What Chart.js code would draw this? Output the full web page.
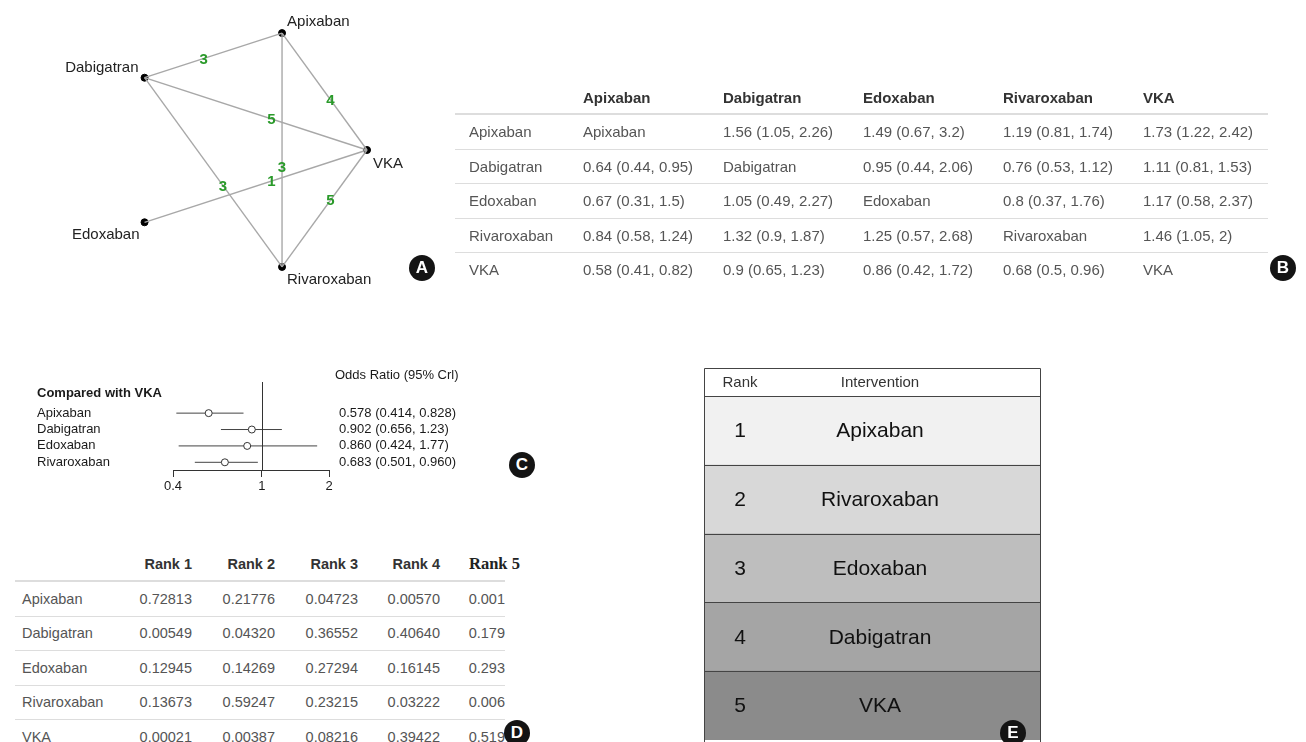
<!DOCTYPE html>
<html>
<head>
<meta charset="utf-8">
<script src="https://cdn.jsdelivr.net/npm/chart.js@4"></script>
<style>
  body { margin: 0; width: 1306px; height: 742px; background: #fff; position: relative; overflow: hidden;
         font-family: "Liberation Sans", Arial, sans-serif; }
  canvas { position: absolute; }
  .tag { position: absolute; width: 26px; height: 26px; border-radius: 50%; background: #141414; color: #fff;
         font: bold 17px "Liberation Sans", Arial; text-align: center; line-height: 26px; }
  table { position: absolute; border-collapse: collapse; table-layout: fixed; color: #555; }
  th, td { padding: 0; white-space: nowrap; overflow: visible; }
  th { color: #333; font-weight: bold; text-align: left; }
  #league { left: 455px; top: 81px; width: 813px; font-size: 15px; }
  #league th { height: 32px; border-bottom: 2px solid #ddd; }
  #league td { height: 33.5px; border-bottom: 1px solid #ddd; }
  #league tr:last-child td { border-bottom: none; }
  #league td, #league th { padding-left: 8px; }
  #league td:first-child { padding-left: 14px; }
  #ranks { left: 15px; top: 548px; width: 490px; font-size: 14.5px; }
  #ranks th { height: 32px; border-bottom: 2px solid #ddd; text-align: right; padding-right: 5px; }
  #ranks td { height: 33.5px; border-bottom: 1px solid #ddd; text-align: right; padding-right: 5px; }
  #ranks tr:last-child td { border-bottom: none; }
  #ranks td:first-child { text-align: left; padding-left: 7px; }
  #ranks td:last-child { padding-right: 0; }
  #ranks th.r5 { text-align: left; padding: 0 0 0 24px; font-family: "Liberation Serif", "Times New Roman", serif;
                 font-size: 16.5px; color: #222; }
</style>
</head>
<body>
<canvas id="network" width="420" height="300" style="left:40px;top:0px;"></canvas>
<table id="league"></table>
<canvas id="forest" width="440" height="138" style="left:30px;top:362px;"></canvas>
<table id="ranks"></table>
<canvas id="rankChart" width="337" height="374" style="left:704px;top:368px;"></canvas>

<div class="tag" style="left:409px;top:255px;">A</div>
<div class="tag" style="left:1270px;top:255px;">B</div>
<div class="tag" style="left:509px;top:452px;">C</div>
<div class="tag" style="left:504px;top:720px;">D</div>
<div class="tag" style="left:1000px;top:720px;">E</div>

<script>
const drugs = ['Apixaban', 'Dabigatran', 'Edoxaban', 'Rivaroxaban', 'VKA'];

// network layout (circle) and direct comparisons
const nodeX = [0.309, -0.809, -0.809, 0.309, 1];
const nodeY = [0.951, 0.588, -0.588, -0.951, 0];
const edgeFrom = ['Apixaban', 'Apixaban', 'Dabigatran', 'Apixaban', 'Edoxaban', 'Dabigatran', 'Rivaroxaban'];
const edgeTo = ['Dabigatran', 'VKA', 'VKA', 'Rivaroxaban', 'VKA', 'Rivaroxaban', 'VKA'];
const edgeStudies = [3, 4, 5, 3, 1, 3, 5];

// league table: row drug vs column drug
const leagueOR = [
    [null, 1.56, 1.49, 1.19, 1.73],
    [0.64, null, 0.95, 0.76, 1.11],
    [0.67, 1.05, null, 0.8, 1.17],
    [0.84, 1.32, 1.25, null, 1.46],
    [0.58, 0.9, 0.86, 0.68, null]
];
const leagueLo = [
    [null, 1.05, 0.67, 0.81, 1.22],
    [0.44, null, 0.44, 0.53, 0.81],
    [0.31, 0.49, null, 0.37, 0.58],
    [0.58, 0.9, 0.57, null, 1.05],
    [0.41, 0.65, 0.42, 0.5, null]
];
const leagueHi = [
    [null, 2.26, 3.2, 1.74, 2.42],
    [0.95, null, 2.06, 1.12, 1.53],
    [1.5, 2.27, null, 1.76, 2.37],
    [1.24, 1.87, 2.68, null, 2],
    [0.82, 1.23, 1.72, 0.96, null]
];

// forest plot, compared with VKA
const forestDrugs = ['Apixaban', 'Dabigatran', 'Edoxaban', 'Rivaroxaban'];
const forestOR = [0.578, 0.902, 0.860, 0.683];
const forestLo = [0.414, 0.656, 0.424, 0.501];
const forestHi = [0.828, 1.23, 1.77, 0.960];
const forestTicks = [0.4, 1, 2];

// rank probabilities
const rank1 = [0.72813, 0.00549, 0.12945, 0.13673, 0.00021];
const rank2 = [0.21776, 0.04320, 0.14269, 0.59247, 0.00387];
const rank3 = [0.04723, 0.36552, 0.27294, 0.23215, 0.08216];
const rank4 = [0.00570, 0.40640, 0.16145, 0.03222, 0.39422];
const rank5 = [0.001, 0.179, 0.293, 0.006, 0.519];

// final ranking
const rankOrder = [1, 2, 3, 4, 5];
const rankDrug = ['Apixaban', 'Rivaroxaban', 'Edoxaban', 'Dabigatran', 'VKA'];

const FONT = '"Liberation Sans", Arial, sans-serif';
Chart.defaults.font.family = FONT;
Chart.defaults.animation = false;
Chart.defaults.plugins.legend.display = false;
Chart.defaults.plugins.tooltip.enabled = false;

// ---------- A: network ----------
const labelOffset = { // dx, dy, align
    Apixaban: [5, -11, 'left'], Dabigatran: [-6, -10, 'right'], Edoxaban: [-5, 13, 'right'],
    Rivaroxaban: [5, 13, 'left'], VKA: [6, 14, 'left']
};

const networkLabels = {
    id: 'networkLabels',
    afterDatasetsDraw(chart) {
        const { ctx, scales: { x, y } } = chart;
        ctx.save();
        ctx.textBaseline = 'middle';
        ctx.font = 'bold 15px ' + FONT;
        ctx.fillStyle = '#2a9a2a';
        ctx.textAlign = 'center';
        edgeFrom.forEach((a, k) => {
            const i = drugs.indexOf(a), j = drugs.indexOf(edgeTo[k]);
            const x1 = x.getPixelForValue(nodeX[i]), y1 = y.getPixelForValue(nodeY[i]);
            const x2 = x.getPixelForValue(nodeX[j]), y2 = y.getPixelForValue(nodeY[j]);
            ctx.fillText(String(edgeStudies[k]), x1 + (x2 - x1) * 0.57, y1 + (y2 - y1) * 0.57 + 1);
        });
        ctx.font = '15px ' + FONT;
        ctx.fillStyle = '#222';
        drugs.forEach((d, i) => {
            const o = labelOffset[d];
            ctx.textAlign = o[2];
            ctx.fillText(d, x.getPixelForValue(nodeX[i]) + o[0], y.getPixelForValue(nodeY[i]) + o[1]);
        });
        ctx.restore();
    }
};

const edgeSets = edgeFrom.map((a, k) => {
    const i = drugs.indexOf(a), j = drugs.indexOf(edgeTo[k]);
    return {
        type: 'line',
        data: [{ x: nodeX[i], y: nodeY[i] }, { x: nodeX[j], y: nodeY[j] }],
        borderColor: '#a8a8a8',
        borderWidth: 1.4,
        pointRadius: 0
    };
});

new Chart(document.getElementById('network'), {
    type: 'scatter',
    data: {
        datasets: [...edgeSets, {
            data: drugs.map((d, i) => ({ x: nodeX[i], y: nodeY[i] })),
            backgroundColor: '#000',
            borderColor: '#000',
            pointRadius: 3.5
        }]
    },
    options: {
        responsive: false,
        layout: { padding: 0, autoPadding: false },
        scales: {
            x: { display: false, min: -1.659, max: 1.756 },
            y: { display: false, min: -1.22, max: 1.22 }
        }
    },
    plugins: [networkLabels]
});

// ---------- B: league table ----------
const fmtCI = (m, l, h) => `${m} (${l}, ${h})`;
let html = '<colgroup><col style="width:120px"><col style="width:140px"><col style="width:140px"><col style="width:140px"><col style="width:140px"><col style="width:133px"></colgroup>';
html += '<tr><th></th>' + drugs.map(d => `<th>${d}</th>`).join('') + '</tr>';
drugs.forEach((d, i) => {
    html += `<tr><td>${d}</td>` + drugs.map((c, j) =>
        `<td>${leagueOR[i][j] === null ? d : fmtCI(leagueOR[i][j], leagueLo[i][j], leagueHi[i][j])}</td>`).join('') + '</tr>';
});
document.getElementById('league').innerHTML = html;

// ---------- C: forest plot ----------
const forestText = {
    id: 'forestText',
    afterDraw(chart) {
        const { ctx, chartArea, scales: { x, y } } = chart;
        ctx.save();
        // line of no effect
        const x1 = Math.round(x.getPixelForValue(1)) + 0.5;
        ctx.strokeStyle = '#333';
        ctx.lineWidth = 1;
        ctx.beginPath();
        ctx.moveTo(x1, chartArea.top);
        ctx.lineTo(x1, chartArea.bottom);
        ctx.stroke();

        ctx.fillStyle = '#1a1a1a';
        ctx.textBaseline = 'middle';
        ctx.textAlign = 'left';
        ctx.font = '13px ' + FONT;
        ctx.fillText('Odds Ratio (95% Crl)', 305, chartArea.top - 7);
        ctx.font = 'bold 13px ' + FONT;
        ctx.fillText('Compared with VKA', 7, y.getPixelForValue(0) - 3);
        ctx.font = '13px ' + FONT;
        forestDrugs.forEach((d, i) => {
            const py = y.getPixelForValue(i + 1);
            ctx.fillText(d, 7, py);
            ctx.fillText(`${forestOR[i].toPrecision(3)} (${forestLo[i].toPrecision(3)}, ${forestHi[i].toPrecision(3)})`, 309, py);
        });
        ctx.restore();
    }
};

const ciSets = forestDrugs.map((d, i) => ({
    type: 'line',
    data: [{ x: forestLo[i], y: i + 1 }, { x: forestHi[i], y: i + 1 }],
    borderColor: '#444',
    borderWidth: 1,
    pointRadius: 0
}));

new Chart(document.getElementById('forest'), {
    type: 'scatter',
    data: {
        datasets: [{
            data: forestDrugs.map((d, i) => ({ x: forestOR[i], y: i + 1 })),
            backgroundColor: '#fff',
            borderColor: '#333',
            borderWidth: 1,
            pointRadius: 3.5
        }, ...ciSets]
    },
    options: {
        responsive: false,
        layout: { padding: { left: 143, right: 141, top: 20, bottom: 2 }, autoPadding: false },
        scales: {
            x: {
                type: 'logarithmic',
                min: 0.4,
                max: 2,
                afterBuildTicks: s => { s.ticks = forestTicks.map(v => ({ value: v })); },
                afterFit: s => { s.height = 28; },
                ticks: { color: '#1a1a1a', font: { size: 13 }, padding: 2, autoSkip: false, maxRotation: 0,
                         callback: v => String(v) },
                grid: { drawOnChartArea: false, tickLength: 7, color: '#333' },
                border: { display: true, color: '#333', width: 1 }
            },
            y: { display: false, reverse: true, min: -0.9, max: 4.47 }
        }
    },
    plugins: [forestText]
});

// ---------- D: rank probabilities ----------
const rankCols = [rank1, rank2, rank3, rank4];
let dh = '<colgroup><col style="width:105px"><col style="width:77px"><col style="width:83px"><col style="width:83px"><col style="width:82px"><col style="width:60px"></colgroup>';
dh += '<tr><th></th>' + rankCols.map((r, k) => `<th>Rank ${k + 1}</th>`).join('') + '<th class="r5">Rank 5</th></tr>';
drugs.forEach((d, i) => {
    dh += `<tr><td>${d}</td>` + rankCols.map(r => `<td>${r[i].toFixed(5)}</td>`).join('') +
          `<td>${rank5[i].toFixed(3)}</td></tr>`;
});
document.getElementById('ranks').innerHTML = dh;

// ---------- E: final ranking ----------
const rowFill = ['#f1f1f1', '#d8d8d8', '#bebebe', '#a5a5a5', '#8b8b8b'];

const rankText = {
    id: 'rankText',
    afterDraw(chart) {
        const { ctx, chartArea, scales: { y } } = chart;
        const band = (chartArea.bottom - chartArea.top) / rankOrder.length;
        ctx.save();
        ctx.strokeStyle = '#444';
        ctx.lineWidth = 1;
        ctx.beginPath();
        ctx.rect(0.5, 0.5, chart.width - 1, chart.height + 5);
        rankOrder.forEach((r, i) => {
            const top = Math.round(y.getPixelForValue(i) - band / 2) + 0.5;
            ctx.moveTo(0, top);
            ctx.lineTo(chart.width, top);
        });
        ctx.stroke();

        ctx.textAlign = 'center';
        ctx.textBaseline = 'middle';
        ctx.fillStyle = '#333';
        ctx.font = '15px ' + FONT;
        ctx.fillText('Rank', 36, chartArea.top / 2 + 1);
        ctx.fillText('Intervention', 176, chartArea.top / 2 + 1);
        ctx.fillStyle = '#111';
        ctx.font = '21px ' + FONT;
        rankOrder.forEach((r, i) => {
            const py = y.getPixelForValue(i) + 1;
            ctx.fillText(String(r), 36, py);
            ctx.fillText(rankDrug[i], 176, py);
        });
        ctx.restore();
    }
};

new Chart(document.getElementById('rankChart'), {
    type: 'bar',
    data: {
        labels: rankOrder.map(String),
        datasets: [{
            data: rankOrder.map(() => [0, 1]),
            backgroundColor: rowFill,
            borderWidth: 0,
            barPercentage: 1,
            categoryPercentage: 1
        }]
    },
    options: {
        indexAxis: 'y',
        responsive: false,
        layout: { padding: { top: 28, bottom: 2, left: 0, right: 0 }, autoPadding: false },
        scales: {
            x: { display: false, min: 0, max: 1 },
            y: { display: false }
        }
    },
    plugins: [rankText]
});
</script>
</body>
</html>
